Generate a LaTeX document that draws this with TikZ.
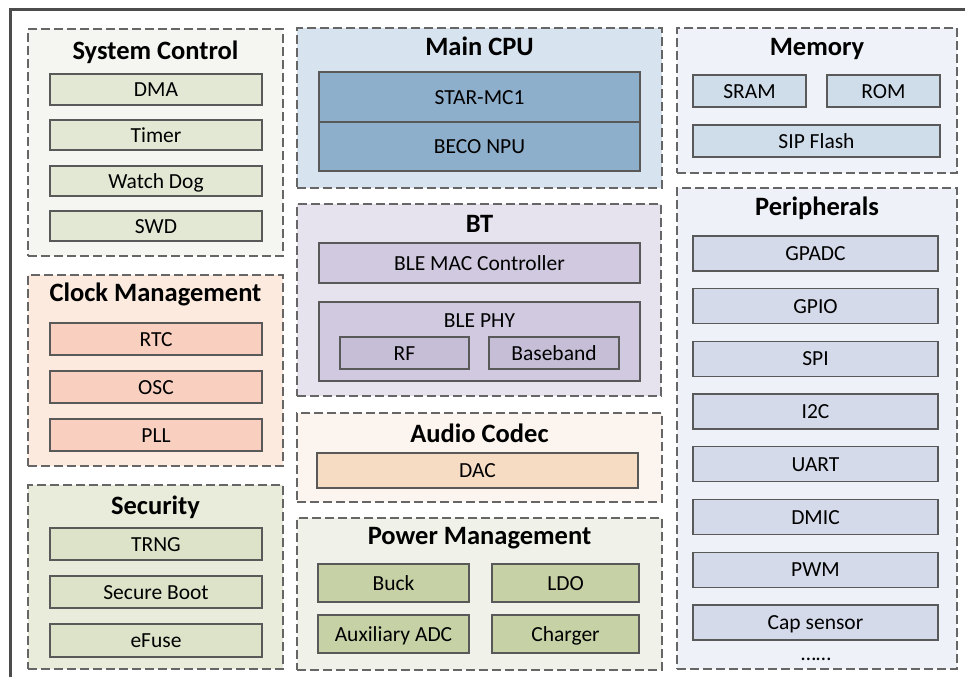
\documentclass[tikz,border=0pt]{standalone}
\usepackage{fontspec}
\setmainfont{Carlito}

\definecolor{sysbg}{HTML}{F5F6F1}
\definecolor{sysfill}{HTML}{E3E8D5}
\definecolor{clkbg}{HTML}{FBEADD}
\definecolor{clkfill}{HTML}{F9D0C0}
\definecolor{secbg}{HTML}{E9EBDB}
\definecolor{secfill}{HTML}{DDE3C9}
\definecolor{cpubg}{HTML}{D7E3EE}
\definecolor{cpufill}{HTML}{8EAFCB}
\definecolor{btbg}{HTML}{E6E3EF}
\definecolor{btfill}{HTML}{D1C9DF}
\definecolor{phyfill}{HTML}{C6BED7}
\definecolor{audbg}{HTML}{FCF4EE}
\definecolor{audfill}{HTML}{F7DCC4}
\definecolor{pwrbg}{HTML}{F0F2E9}
\definecolor{pwrfill}{HTML}{C6D1A5}
\definecolor{membg}{HTML}{EFF2F8}
\definecolor{memfill}{HTML}{CFDDEA}
\definecolor{peribg}{HTML}{EEF1F8}
\definecolor{perifill}{HTML}{D5DAEA}

% style, name, x1, y1, x2, y2, text
\newcommand{\chipbox}[7]{%
  \node [#1, minimum width={(#5-#3)*1pt}, minimum height={(#6-#4)*1pt}] (#2) at ({(#3+#5)/2},{(#4+#6)/2}) {#7};}

\tikzset{
  grp/.style={draw=black!60, dash pattern=on 9pt off 4pt, line width=1.3pt, inner sep=0pt},
  box/.style={draw=black!65, line width=1.3pt, inner sep=0pt, text height=14pt, text depth=0pt,
    font=\fontsize{21.5}{21.5}\selectfont},
  ttl/.style={inner sep=0pt, text height=17pt, text depth=0pt, font=\bfseries\fontsize{26.5}{26.5}\selectfont},
  frame/.style={draw=black!70, line width=3pt}
}

\begin{document}
\begin{tikzpicture}[x=1pt,y=-1pt]
\useasboundingbox (0,0) rectangle (965,677);
\draw [frame] (10,677) -- (10,10) -- (965,10);

% left column
\chipbox{grp, fill=sysbg}{sysgrp}{28}{29}{283}{256}{}
\node [ttl] (systtl) at (155.5,51) {System Control};
\chipbox{box, fill=sysfill}{dma}{50}{74}{262}{105}{DMA}
\chipbox{box, fill=sysfill}{timer}{50}{120}{262}{150}{Timer}
\chipbox{box, fill=sysfill}{wdog}{50}{166}{262}{196}{Watch Dog}
\chipbox{box, fill=sysfill}{swd}{50}{211}{262}{241}{SWD}

\chipbox{grp, fill=clkbg}{clkgrp}{28}{275}{283}{466}{}
\node [ttl] (clkttl) at (155.5,293) {Clock Management};
\chipbox{box, fill=clkfill}{rtc}{50}{323}{262}{355}{RTC}
\chipbox{box, fill=clkfill}{osc}{50}{371}{262}{403}{OSC}
\chipbox{box, fill=clkfill}{pll}{50}{419}{262}{451}{PLL}

\chipbox{grp, fill=secbg}{secgrp}{28}{485}{283}{669}{}
\node [ttl] (secttl) at (155.5,506) {Security};
\chipbox{box, fill=secfill}{trng}{50}{528}{262}{560}{TRNG}
\chipbox{box, fill=secfill}{sboot}{50}{576}{262}{608}{Secure Boot}
\chipbox{box, fill=secfill}{efuse}{50}{624}{262}{657}{eFuse}

% middle column
\chipbox{grp, fill=cpubg}{cpugrp}{297}{28}{662}{188}{}
\node [ttl] (cputtl) at (479.5,47) {Main CPU};
\chipbox{box, fill=cpufill}{star}{319}{72}{640}{122}{STAR-MC1}
\chipbox{box, fill=cpufill}{npu}{319}{122}{640}{171}{BECO NPU}

\chipbox{grp, fill=btbg}{btgrp}{297}{204}{661}{396}{}
\node [ttl] (btttl) at (479.5,224) {BT};
\chipbox{box, fill=btfill}{mac}{319}{243}{640}{283}{BLE MAC Controller}
\chipbox{box, fill=btfill}{phy}{319}{302}{640}{381}{}
\node [box, draw=none] (phytxt) at (479.5,320) {BLE PHY};
\chipbox{box, fill=phyfill}{rf}{340}{337}{469}{369}{RF}
\chipbox{box, fill=phyfill}{bband}{489}{337}{619}{369}{Baseband}

\chipbox{grp, fill=audbg}{audgrp}{297}{413}{662}{502}{}
\node [ttl] (audttl) at (479.5,434) {Audio Codec};
\chipbox{box, fill=audfill}{dac}{317}{453}{638}{488}{DAC}

\chipbox{grp, fill=pwrbg}{pwrgrp}{297}{518}{662}{670}{}
\node [ttl] (pwrttl) at (479.5,536) {Power Management};
\chipbox{box, fill=pwrfill}{buck}{318}{564}{469}{602}{Buck}
\chipbox{box, fill=pwrfill}{ldo}{492}{564}{639}{602}{LDO}
\chipbox{box, fill=pwrfill}{auxadc}{318}{615}{469}{653}{Auxiliary ADC}
\chipbox{box, fill=pwrfill}{chg}{492}{615}{639}{653}{Charger}

% right column
\chipbox{grp, fill=membg}{memgrp}{677}{28}{957}{173}{}
\node [ttl] (memttl) at (817,47) {Memory};
\chipbox{box, fill=memfill}{sram}{693}{75}{806}{107}{SRAM}
\chipbox{box, fill=memfill}{rom}{827}{75}{940}{107}{ROM}
\chipbox{box, fill=memfill}{flash}{693}{125}{940}{157}{SIP Flash}

\chipbox{grp, fill=peribg}{perigrp}{677}{188}{957}{669}{}
\node [ttl] (perittl) at (817,207) {Peripherals};
\foreach \nm/\lbl [count=\i from 0] in {gpadc/GPADC, gpio/GPIO, spi/SPI, iic/I2C, uart/UART, dmic/DMIC, pwm/PWM, cap/Cap sensor} {
  \pgfmathsetmacro{\ya}{236+52.7*\i}
  \chipbox{box, fill=perifill}{\nm}{693}{\ya}{938}{\ya+35}{\lbl}
}
\node [box, draw=none] (more) at (816,653) {……};
\end{tikzpicture}
\end{document}
